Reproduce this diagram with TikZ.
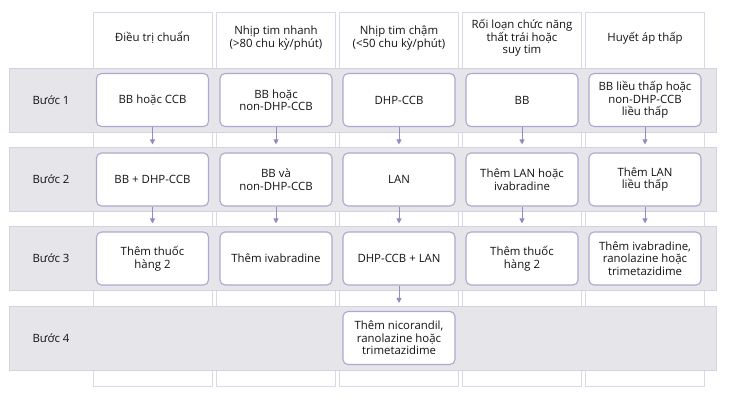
\documentclass[tikz,border=0pt]{standalone}
\usepackage{fontspec}
\setmainfont{Open Sans}
\usepackage{xcolor}
\usetikzlibrary{positioning, arrows.meta}

\definecolor{colline}{HTML}{D9D8E6}
\definecolor{bandfill}{HTML}{E5E5EA}
\definecolor{bandline}{HTML}{D3D2E0}
\definecolor{boxline}{HTML}{ABA9D0}
\definecolor{arrowcol}{HTML}{8F8CC6}

\begin{document}
\begin{tikzpicture}[
    x=1pt, y=-1pt,
    font=\fontsize{11.4}{12.5}\selectfont,
    column/.style={draw=colline, line width=1pt, fill=white,
                   minimum width=119pt, minimum height=373pt, inner sep=0pt},
    band/.style={draw=bandline, line width=0.8pt, fill=bandfill,
                 minimum width=707pt, minimum height=64pt, inner sep=0pt},
    box/.style={draw=boxline, line width=1.1pt, fill=white, rounded corners=5pt,
                minimum width=112pt, minimum height=53pt, align=center, inner sep=1pt,
                text=black!92},
    head/.style={align=center, text=black!92},
    steplabel/.style={text=black!92},
    arrow/.style={-{Triangle[width=5pt, length=5pt]}, draw=arrowcol, line width=0.9pt,
                  shorten >=8pt}
]
\useasboundingbox (0,0) rectangle (730,403);
% Columns
\node[column] (col1) at (152.5,199.5) {};
\node[column] (col2) at (276,199.5) {};
\node[column] (col3) at (399,199.5) {};
\node[column] (col4) at (522,199.5) {};
\node[column] (col5) at (645,199.5) {};
% Headers
\node[head] (h1) at (152.5,38) {Điều trị chuẩn};
\node[head] (h2) at (276,38) {Nhịp tim nhanh\\(>80 chu kỳ/phút)};
\node[head] (h3) at (399,38) {Nhịp tim chậm\\(<50 chu kỳ/phút)};
\node[head] (h4) at (522,38) {Rối loạn chức năng\\thất trái hoặc\\suy tim};
\node[head] (h5) at (645,38) {Huyết áp thấp};
% Row bands
\node[band] (row1) at (362.5,100) {};
\node[band] (row2) at (362.5,179.5) {};
\node[band] (row3) at (362.5,258.5) {};
\node[band] (row4) at (362.5,338) {};
\node[steplabel] (s1) at (51,100) {Bước 1};
\node[steplabel] (s2) at (51,179.5) {Bước 2};
\node[steplabel] (s3) at (51,258.5) {Bước 3};
\node[steplabel] (s4) at (51,338) {Bước 4};
% Step 1
\node[box] (b11) at (152.5,100) {BB hoặc CCB};
\node[box] (b12) at (276,100) {BB hoặc\\non-DHP-CCB};
\node[box] (b13) at (399,100) {DHP-CCB};
\node[box] (b14) at (522,100) {BB};
\node[box] (b15) at (645,100) {BB liều thấp hoặc\\non-DHP-CCB\\liều thấp};
% Step 2
\node[box] (b21) at (152.5,179.5) {BB + DHP-CCB};
\node[box] (b22) at (276,179.5) {BB và\\non-DHP-CCB};
\node[box] (b23) at (399,179.5) {LAN};
\node[box] (b24) at (522,179.5) {Thêm LAN hoặc\\ivabradine};
\node[box] (b25) at (645,179.5) {Thêm LAN\\liều thấp};
% Step 3
\node[box] (b31) at (152.5,258.5) {Thêm thuốc\\hàng 2};
\node[box] (b32) at (276,258.5) {Thêm ivabradine};
\node[box] (b33) at (399,258.5) {DHP-CCB + LAN};
\node[box] (b34) at (522,258.5) {Thêm thuốc\\hàng 2};
\node[box] (b35) at (645,258.5) {Thêm ivabradine,\\ranolazine hoặc\\trimetazidime};
% Step 4
\node[box] (b43) at (399,338) {Thêm nicorandil,\\ranolazine hoặc\\trimetazidime};
% Arrows
\draw[arrow] (b11) -- (b21);
\draw[arrow] (b12) -- (b22);
\draw[arrow] (b13) -- (b23);
\draw[arrow] (b14) -- (b24);
\draw[arrow] (b15) -- (b25);
\draw[arrow] (b21) -- (b31);
\draw[arrow] (b22) -- (b32);
\draw[arrow] (b23) -- (b33);
\draw[arrow] (b24) -- (b34);
\draw[arrow] (b25) -- (b35);
\draw[arrow] (b33) -- (b43);
\end{tikzpicture}
\end{document}
